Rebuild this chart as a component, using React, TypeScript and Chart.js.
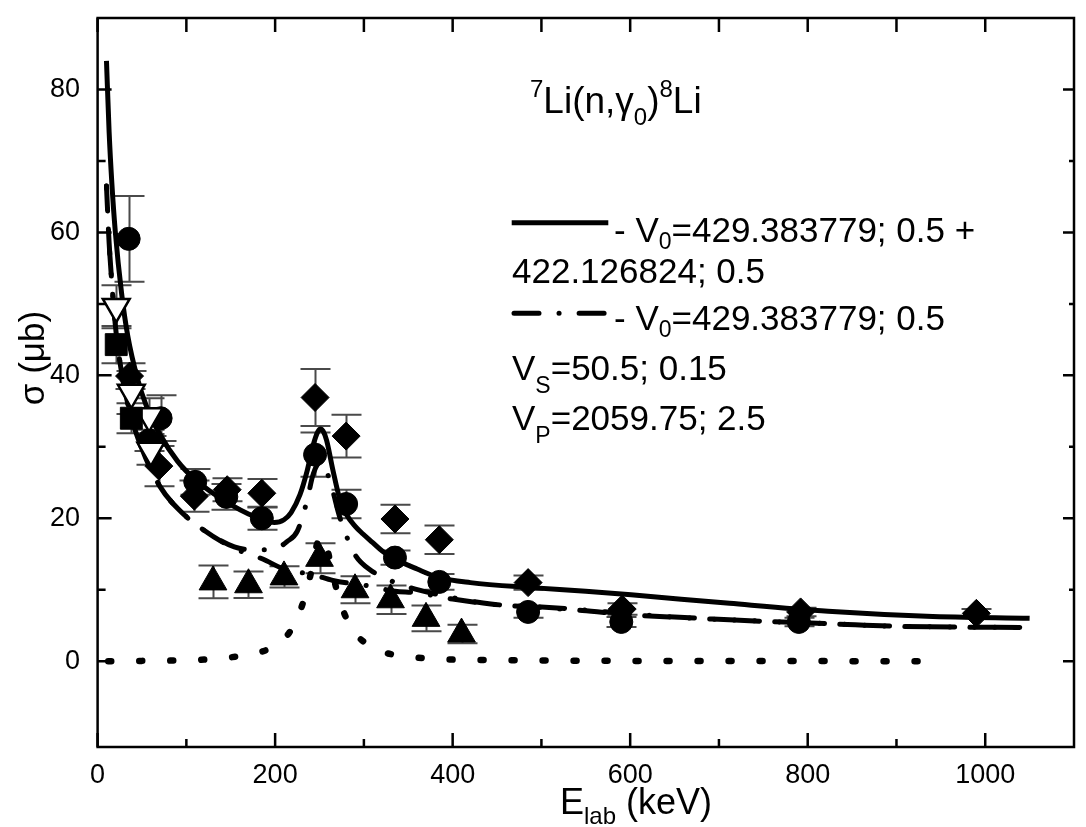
import React, { useEffect, useRef } from "react";
import { Chart, registerables } from "chart.js";
Chart.register(...registerables);

const FONT = '"Liberation Sans", Arial, sans-serif';

// ---- axes ----
const xMin = 0, xMax = 1100, yMin = -12, yMax = 90;
const xTicksMajor = [0, 200, 400, 600, 800, 1000];
const xTicksMinor = [100, 300, 500, 700, 900];
const yTicksMajor = [0, 20, 40, 60, 80];
const yTicksMinor = [10, 30, 50, 70];

// ---- experimental data ----
const circX = [35, 58, 71, 110, 145, 185, 245, 280, 335, 385, 485, 590, 790];
const circY = [59.1, 30.9, 34.0, 25.1, 23.0, 20.0, 28.9, 22.0, 14.5, 11.1, 6.9, 5.5, 5.5];
const circErr = [6.0, 1.5, 3.2, 1.8, 1.8, 1.6, 3.1, 2.0, 1.0, 1.1, 0.8, 0.7, 0.6];

const diamX = [36, 69, 109, 146, 185, 245, 280, 335, 385, 485, 591, 792, 990];
const diamY = [39.9, 27.3, 23.1, 24.0, 23.5, 36.9, 31.5, 19.9, 17.0, 11.0, 7.3, 6.9, 6.7];
const diamErr = [1.8, 2.8, 2.2, 1.6, 2.0, 4.0, 3.0, 2.0, 2.0, 1.0, 0.8, 0.6, 0.6];

const triX = [130, 170, 210, 250, 290, 330, 370, 410];
const triY = [11.1, 10.7, 11.8, 14.4, 10.0, 8.6, 6.0, 3.8];
const triErr = [2.3, 1.85, 1.5, 2.1, 1.9, 2.0, 1.8, 1.3];

const invX = [21, 38, 58, 60];
const invY = [49.6, 37.6, 34.3, 29.5];
const invErr = [3.0, 3.0, 2.5, 2.0];

const sqX = [21, 38];
const sqY = [44.3, 34.0];
const sqErr = [2.6, 2.1];

// ---- calculated curves ----
const solidX = [10, 13, 16, 20, 27, 34, 45, 55, 70, 90, 110, 130, 150, 170, 185, 199, 210, 218, 228, 236, 243, 248, 251, 254, 258, 265, 273, 280, 290, 299, 310, 321, 335, 360, 385, 420, 489, 550, 601, 712, 823, 934, 1050];
const solidY = [84, 74, 67, 60, 51.5, 45.5, 39.5, 35.7, 31.8, 28.0, 25.4, 23.5, 21.9, 20.6, 19.9, 19.4, 19.8, 20.8, 23.3, 26.6, 30.3, 32.1, 32.5, 32.2, 30.9, 26.8, 22.6, 20.6, 18.9, 17.8, 16.6, 15.4, 14.3, 12.9, 11.7, 11.0, 10.3, 9.8, 9.3, 8.1, 7.0, 6.3, 6.0];

const dashDotX = [10, 13, 16, 20, 25, 35, 50, 70, 90, 119, 154, 175, 193, 205, 213, 225, 236, 242, 247, 252, 257, 265, 272, 278, 290, 308, 325, 339, 358, 400, 443, 500, 546, 601, 693, 834, 897, 1050];
const dashDotY = [66.5, 58.5, 53, 47, 42, 35.5, 29.7, 24.5, 21.4, 18.4, 16.0, 15.6, 15.6, 16.0, 16.7, 18.2, 22.5, 25.8, 27.4, 27.9, 26.9, 23.8, 20.5, 18.3, 14.9, 12.7, 11.6, 10.8, 10.1, 8.9, 8.0, 7.6, 7.2, 6.6, 5.9, 5.2, 4.9, 4.7];

const smoothX = [10, 13, 16, 20, 25, 35, 50, 70, 90, 119, 154, 186, 210, 243, 265, 302, 335, 358, 400, 443, 500, 546, 601, 693, 834, 897, 1050];
const smoothY = [66.5, 58.5, 53, 47, 42, 35.5, 29.7, 24.5, 21.4, 18.4, 15.8, 14.3, 12.9, 12.1, 11.3, 10.6, 9.8, 9.6, 8.7, 8.0, 7.5, 7.1, 6.5, 5.9, 5.2, 4.9, 4.7];

const dotX = [12, 50, 85, 115, 150, 184, 200, 217, 232, 241, 247, 252, 258, 263, 271, 285, 300, 316, 347, 384, 420, 500, 600, 700, 800, 937];
const dotY = [0, 0.05, 0.1, 0.2, 0.55, 1.3, 2.2, 4.2, 8.4, 12.7, 16.3, 17.5, 16.0, 13.4, 9.2, 4.8, 2.7, 1.5, 0.7, 0.3, 0.2, 0.1, 0.05, 0.03, 0.02, 0.0];

const pts = (xs: number[], ys: number[]) => xs.map((x, i) => ({ x, y: ys[i] }));

const DASHDOT = [25, 20, 0.1, 20];

type Seg = { t: string; size: number; dy?: number };
function richWidth(ctx: CanvasRenderingContext2D, segs: Seg[]) {
  let w = 0;
  for (const s of segs) {
    ctx.font = `${s.size}px ${FONT}`;
    w += ctx.measureText(s.t).width;
  }
  return w;
}
function drawRich(ctx: CanvasRenderingContext2D, segs: Seg[], x: number, y: number) {
  let cx = x;
  for (const s of segs) {
    ctx.font = `${s.size}px ${FONT}`;
    ctx.fillText(s.t, cx, y + (s.dy || 0));
    cx += ctx.measureText(s.t).width;
  }
  return cx;
}

const errorBarPlugin = {
  id: "errbars",
  beforeDatasetsDraw(chart: any) {
    const ctx = chart.ctx as CanvasRenderingContext2D;
    const xs = chart.scales.x, ys = chart.scales.y;
    ctx.save();
    ctx.strokeStyle = "#4a4a4a";
    ctx.lineWidth = 2;
    chart.data.datasets.forEach((ds: any) => {
      if (!ds.errors) return;
      ds.data.forEach((p: any, i: number) => {
        const e = ds.errors[i];
        if (!e) return;
        const px = Math.round(xs.getPixelForValue(p.x)) + 0.5;
        const y1 = ys.getPixelForValue(p.y + e);
        const y2 = ys.getPixelForValue(p.y - e);
        const cap = 15;
        ctx.beginPath();
        ctx.moveTo(px, y1); ctx.lineTo(px, y2);
        ctx.moveTo(px - cap, y1); ctx.lineTo(px + cap, y1);
        ctx.moveTo(px - cap, y2); ctx.lineTo(px + cap, y2);
        ctx.stroke();
      });
    });
    ctx.restore();
  },
};

const framePlugin = {
  id: "frame",
  afterDraw(chart: any) {
    const ctx = chart.ctx as CanvasRenderingContext2D;
    const { left, right, top, bottom } = chart.chartArea;
    const xs = chart.scales.x, ys = chart.scales.y;
    ctx.save();
    ctx.strokeStyle = "#000";
    ctx.fillStyle = "#000";
    ctx.lineWidth = 2.5;
    ctx.strokeRect(left, top, right - left, bottom - top);
    ctx.beginPath();
    for (const v of xTicksMajor) {
      const px = xs.getPixelForValue(v);
      ctx.moveTo(px, bottom); ctx.lineTo(px, bottom - 14);
      ctx.moveTo(px, top); ctx.lineTo(px, top + 14);
    }
    for (const v of xTicksMinor) {
      const px = xs.getPixelForValue(v);
      ctx.moveTo(px, bottom); ctx.lineTo(px, bottom - 8);
      ctx.moveTo(px, top); ctx.lineTo(px, top + 14);
    }
    for (const v of yTicksMajor) {
      const py = ys.getPixelForValue(v);
      ctx.moveTo(left, py); ctx.lineTo(left + 14, py);
      ctx.moveTo(right, py); ctx.lineTo(right - 11, py);
    }
    for (const v of yTicksMinor) {
      const py = ys.getPixelForValue(v);
      ctx.moveTo(left, py); ctx.lineTo(left + 8, py);
      ctx.moveTo(right, py); ctx.lineTo(right - 5, py);
    }
    ctx.stroke();

    // tick labels
    ctx.font = `27px ${FONT}`;
    ctx.textAlign = "center";
    ctx.textBaseline = "middle";
    for (const v of xTicksMajor) ctx.fillText(String(v), xs.getPixelForValue(v), 776);
    ctx.textAlign = "right";
    for (const v of yTicksMajor) ctx.fillText(String(v), 80, ys.getPixelForValue(v));

    // axis titles
    ctx.textAlign = "left";
    ctx.textBaseline = "alphabetic";
    const xt: Seg[] = [{ t: "E", size: 36 }, { t: "lab", size: 24, dy: 10 }, { t: " (keV)", size: 36 }];
    const w = richWidth(ctx, xt);
    drawRich(ctx, xt, 636 - w / 2, 814);

    ctx.save();
    ctx.translate(34, 358);
    ctx.rotate(-Math.PI / 2);
    ctx.font = `35px ${FONT}`;
    ctx.textAlign = "center";
    ctx.textBaseline = "middle";
    ctx.fillText("\u03c3 (\u03bcb)", 0, 0);
    ctx.restore();

    // title
    ctx.textAlign = "left";
    ctx.textBaseline = "alphabetic";
    drawRich(ctx, [
      { t: "7", size: 24, dy: -16 },
      { t: "Li(n,", size: 37 },
      { t: "\u03b3", size: 37 },
      { t: "0", size: 24, dy: 12 },
      { t: ")", size: 37 },
      { t: "8", size: 24, dy: -16 },
      { t: "Li", size: 37 },
    ], 530, 113);

    // legend
    ctx.lineWidth = 5;
    ctx.lineCap = "butt";
    ctx.beginPath();
    ctx.moveTo(511.7, 222.7); ctx.lineTo(608.3, 222.7);
    ctx.stroke();
    ctx.lineCap = "round";
    ctx.setLineDash(DASHDOT);
    ctx.beginPath();
    ctx.moveTo(514, 313.3); ctx.lineTo(606, 313.3);
    ctx.stroke();
    ctx.setLineDash([]);

    drawRich(ctx, [{ t: "- V", size: 35 }, { t: "0", size: 23, dy: 7 }, { t: "=429.383779; 0.5 +", size: 35 }], 614, 242);
    drawRich(ctx, [{ t: "422.126824; 0.5", size: 35 }], 512, 283);
    drawRich(ctx, [{ t: "- V", size: 35 }, { t: "0", size: 23, dy: 7 }, { t: "=429.383779; 0.5", size: 35 }], 614, 330);
    drawRich(ctx, [{ t: "V", size: 35 }, { t: "S", size: 23, dy: 13 }, { t: "=50.5; 0.15", size: 35 }], 512, 380);
    drawRich(ctx, [{ t: "V", size: 35 }, { t: "P", size: 23, dy: 13 }, { t: "=2059.75; 2.5", size: 35 }], 512, 430);
    ctx.restore();
  },
};

export default function App() {
  const ref = useRef<HTMLCanvasElement>(null);
  useEffect(() => {
    const marker = (style: string, r: number, extra: any = {}) => ({
      type: "scatter" as const,
      showLine: false,
      pointStyle: style,
      pointRadius: r,
      pointBackgroundColor: "#000",
      pointBorderColor: "#000",
      pointBorderWidth: 1,
      order: 0,
      ...extra,
    });
    const curve = (xs: number[], ys: number[], extra: any) => ({
      type: "line" as const,
      data: pts(xs, ys),
      borderColor: "#000",
      borderWidth: 5,
      pointRadius: 0,
      fill: false,
      cubicInterpolationMode: "monotone",
      order: 1,
      ...extra,
    });
    const chart = new Chart(ref.current!, {
      type: "scatter",
      data: {
        datasets: [
          curve(dotX, dotY, { borderDash: [3, 28], borderCapStyle: "round", borderWidth: 6.5 }),
          curve(smoothX, smoothY, { borderDash: DASHDOT, borderDashOffset: 22, borderCapStyle: "round" }),
          curve(dashDotX, dashDotY, { borderDash: DASHDOT, borderCapStyle: "round" }),
          curve(solidX, solidY, {}),
          { ...marker("triangle", 16), data: pts(triX, triY), errors: triErr },
          { ...marker("rect", 15.5), data: pts(sqX, sqY), errors: sqErr },
          { ...marker("triangle", 15.5, { pointRotation: 180, pointBackgroundColor: "#fff", pointBorderWidth: 2.5 }), data: pts(invX, invY), errors: invErr },
          { ...marker("rectRot", 14), data: pts(diamX, diamY), errors: diamErr },
          { ...marker("circle", 11.5), data: pts(circX, circY), errors: circErr },
        ] as any,
      },
      options: {
        animation: false,
        responsive: false,
        devicePixelRatio: 1,
        layout: { padding: { left: 97.6, top: 10, right: 2, bottom: 80 } },
        scales: {
          x: { type: "linear", min: xMin, max: xMax, display: false },
          y: { type: "linear", min: yMin, max: yMax, display: false },
        },
        plugins: { legend: { display: false }, tooltip: { enabled: false } },
      } as any,
      plugins: [errorBarPlugin, framePlugin],
    });
    return () => chart.destroy();
  }, []);
  return (
    <div style={{ position: "fixed", left: 0, top: 0, width: 1086, height: 827, overflow: "hidden", background: "#fff" }}>
      <canvas ref={ref} width={1092} height={827} style={{ display: "block", width: 1092, height: 827 }} />
    </div>
  );
}
